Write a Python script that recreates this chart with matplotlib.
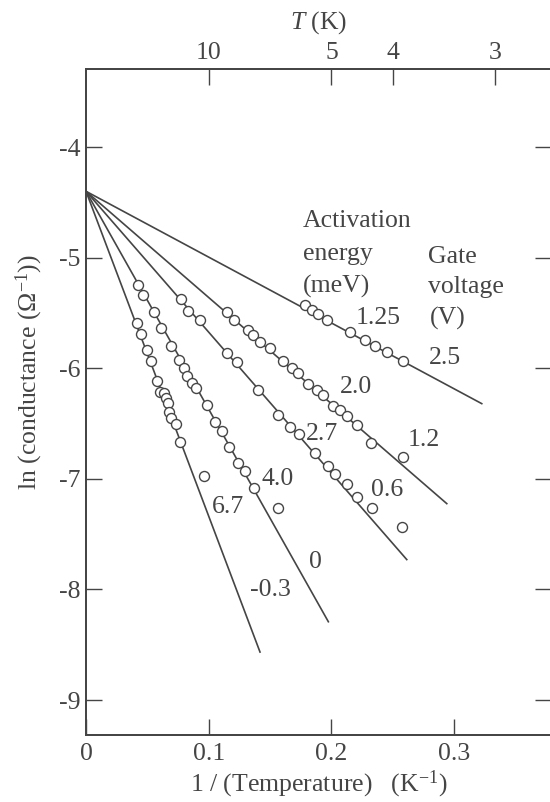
import matplotlib
matplotlib.use("Agg")
import matplotlib.pyplot as plt
import numpy as np

plt.rcParams['font.family'] = ['Liberation Serif', 'DejaVu Serif']
plt.rcParams['mathtext.fontset'] = 'custom'
plt.rcParams['mathtext.rm'] = 'Liberation Serif'
plt.rcParams['mathtext.it'] = 'Liberation Serif:italic'

# ---- data (x = 1/T in 1/K, y = ln conductance) ----
energy_labels = ["6.7", "4.0", "2.7", "2.0", "1.25"]
voltage_labels = ["-0.3", "0", "0.6", "1.2", "2.5"]

xA = [0.0413, 0.0446, 0.0495, 0.0527, 0.0581, 0.0603, 0.0638, 0.0652, 0.0671, 0.0679, 0.0690, 0.0733, 0.0766, 0.0962]
yA = [-5.594, -5.687, -5.835, -5.932, -6.113, -6.212, -6.222, -6.272, -6.317, -6.393, -6.453, -6.504, -6.665, -6.975]

xB = [0.0426, 0.0467, 0.0554, 0.0609, 0.0690, 0.0760, 0.0799, 0.0826, 0.0861, 0.0900, 0.0986, 0.1051, 0.1106, 0.1164, 0.1241, 0.1292, 0.1369, 0.1567]
yB = [-5.248, -5.338, -5.492, -5.639, -5.802, -5.929, -6.001, -6.071, -6.129, -6.182, -6.333, -6.484, -6.570, -6.710, -6.854, -6.928, -7.079, -7.267]

xC = [0.0772, 0.0834, 0.0929, 0.1153, 0.1228, 0.1400, 0.1567, 0.1663, 0.1736, 0.1866, 0.1968, 0.2029, 0.2125, 0.2206, 0.2328, 0.2573]
yC = [-5.377, -5.478, -5.564, -5.865, -5.948, -6.194, -6.419, -6.529, -6.597, -6.764, -6.888, -6.954, -7.049, -7.167, -7.267, -7.433]

xD = [0.1147, 0.1210, 0.1323, 0.1363, 0.1418, 0.1500, 0.1608, 0.1676, 0.1730, 0.1812, 0.1880, 0.1934, 0.2016, 0.2070, 0.2125, 0.2206, 0.2323, 0.2586]
yD = [-5.492, -5.564, -5.652, -5.700, -5.760, -5.820, -5.933, -6.001, -6.039, -6.139, -6.197, -6.242, -6.344, -6.378, -6.430, -6.514, -6.679, -6.800]

xE = [0.1785, 0.1839, 0.1893, 0.1962, 0.2152, 0.2274, 0.2355, 0.2456, 0.2586]
yE = [-5.429, -5.474, -5.512, -5.561, -5.670, -5.741, -5.802, -5.851, -5.932]

# fitted lines: common intercept at 1/T = 0, end points
line_intercept = -4.4
line_x_end = [0.1418, 0.1975, 0.2614, 0.2940, 0.3225]
line_y_end = [-8.566, -8.292, -7.730, -7.224, -6.320]

x_ticks = [0, 0.1, 0.2, 0.3]
x_tick_labels = ["0", "0.1", "0.2", "0.3"]
y_ticks = [-4, -5, -6, -7, -8, -9]
y_tick_labels = ["-4", "-5", "-6", "-7", "-8", "-9"]
T_ticks = [10, 5, 4, 3]

# label positions (data coords)
energy_pos = [(0.1161, -7.259), (0.1561, -6.997), (0.1927, -6.590), (0.2200, -6.170), (0.2384, -5.542)]
voltage_pos = [(0.1500, -8.005), (0.1866, -7.748), (0.2457, -7.101), (0.2755, -6.649), (0.2926, -5.903)]

ink = '#454545'
FS = 18.5

fig = plt.figure(figsize=(5.5, 8.02), dpi=100)
ax = fig.add_axes([86/550, 1 - 735/802, (550.6 - 86)/550, (735 - 69.3)/802])
ax.set_xlim(0, 0.3786)
ax.set_ylim(-9.316, -3.297)

for xe, ye in zip(line_x_end, line_y_end):
    ax.plot([0, xe], [line_intercept, ye], color=ink, lw=1.2, zorder=2)

for xs, ys in [(xA, yA), (xB, yB), (xC, yC), (xD, yD), (xE, yE)]:
    ax.plot(xs, ys, 'o', ms=7.2, mfc='white', mec=ink, mew=1.0, zorder=3, ls='none')

for lab, (px, py) in zip(energy_labels, energy_pos):
    ax.text(px, py, lab, fontsize=FS, color=ink, ha='center', va='center')
for lab, (px, py) in zip(voltage_labels, voltage_pos):
    ax.text(px, py, lab, fontsize=FS, color=ink, ha='center', va='center')

ax.text(0.1770, -4.723, "Activation", fontsize=FS, color=ink, ha='left', va='baseline')
ax.text(0.1770, -5.022, "energy", fontsize=FS, color=ink, ha='left', va='baseline')
ax.text(0.1770, -5.320, "(meV)", fontsize=FS, color=ink, ha='left', va='baseline')
ax.text(0.2787, -5.049, "Gate", fontsize=FS, color=ink, ha='left', va='baseline')
ax.text(0.2787, -5.320, "voltage", fontsize=FS, color=ink, ha='left', va='baseline')
ax.text(0.2800, -5.609, "(V)", fontsize=FS, color=ink, ha='left', va='baseline')

ax.set_xticks(x_ticks)
ax.set_xticklabels(x_tick_labels)
ax.set_yticks(y_ticks)
ax.set_yticklabels(y_tick_labels)
ax.tick_params(direction='in', length=11.5, width=1.0, colors=ink, labelsize=FS,
               right=True, pad=4)
ax.tick_params(axis='x', pad=6)

ax2 = ax.twiny()
ax2.set_xlim(ax.get_xlim())
ax2.set_xticks([1.0 / t for t in T_ticks])
ax2.set_xticklabels([str(t) for t in T_ticks])
ax2.tick_params(direction='in', length=11.5, width=1.0, colors=ink, labelsize=FS, pad=4)

for a in (ax, ax2):
    for s in a.spines.values():
        s.set_color(ink)
        s.set_linewidth(1.3)

ax.set_xlabel("1 / (Temperature)   (K$^{-1}$)", fontsize=FS, color=ink)
ax.xaxis.set_label_coords(0.50, -0.074)
ax.xaxis.label.set_va('center')
ax.set_ylabel("ln (conductance (Ω$^{-1}$))", fontsize=FS, color=ink)
ax.yaxis.set_label_coords(-0.121, 0.545)
ax.yaxis.label.set_va('center')
ax2.set_xlabel("$T$ (K)", fontsize=FS, color=ink)
ax2.xaxis.set_label_coords(0.50, 1.0706)
ax2.xaxis.label.set_va('center')

fig.savefig("out.png", dpi=100)
